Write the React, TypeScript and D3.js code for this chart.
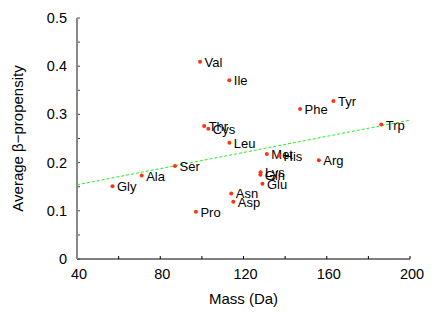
import * as d3 from 'd3'

const residues = ['Gly', 'Ala', 'Ser', 'Pro', 'Val', 'Thr', 'Cys', 'Ile', 'Leu', 'Asn', 'Asp', 'Gln', 'Lys', 'Glu', 'Met', 'His', 'Phe', 'Arg', 'Tyr', 'Trp']
const masses = [57.05, 71.08, 87.08, 97.12, 99.13, 101.1, 103.1, 113.2, 113.2, 114.1, 115.1, 128.1, 128.2, 129.1, 131.2, 137.1, 147.2, 156.2, 163.2, 186.2]
const propensity = [0.151, 0.173, 0.193, 0.098, 0.409, 0.276, 0.270, 0.371, 0.241, 0.136, 0.119, 0.175, 0.180, 0.156, 0.218, 0.214, 0.311, 0.205, 0.328, 0.279]

// fitted line end points
const fitX = [40, 200]
const fitY = [0.154, 0.288]

const xTicks = [40, 80, 120, 160, 200]
const yTicks = [0, 0.1, 0.2, 0.3, 0.4, 0.5]

const W = 436
const H = 317
const margin = { top: 18, right: 26, bottom: 58, left: 77 }
const font = 'Liberation Sans, Arial, sans-serif'

const App = () => {
    const innerW = W - margin.left - margin.right
    const innerH = H - margin.top - margin.bottom

    const x = d3.scaleLinear().domain([40, 200]).range([0, innerW])
    const y = d3.scaleLinear().domain([0, 0.5]).range([innerH, 0])

    const fitLine = d3.line<number>()
        .x(d => x(fitX[d]))
        .y(d => y(fitY[d]))

    const xMinor = d3.range(40, 201, 20)
    const yMinor = d3.range(0, 0.501, 0.05)

    return (
        <div style={{ position: 'absolute', left: 0, top: 0 }}>
            <svg width={W} height={H} style={{ display: 'block', background: '#fff' }}>
                <g transform={`translate(${margin.left},${margin.top})`} fontFamily={font}>
                    {/* assi */}
                    <line x1={0} x2={innerW} y1={innerH} y2={innerH} stroke="#000" strokeWidth={1} />
                    {xMinor.map(t => (
                        <line key={'xt' + t} x1={x(t)} x2={x(t)} y1={innerH} y2={innerH - 3} stroke="#000" />
                    ))}
                    {yMinor.map(t => (
                        <line key={'yt' + t} x1={0} x2={3} y1={y(t)} y2={y(t)} stroke="#444" />
                    ))}
                    <line x1={0} x2={0} y1={0} y2={innerH} stroke="#888" strokeWidth={2} />

                    {xTicks.map(t => (
                        <text key={'xl' + t} x={x(t) + 2} y={innerH + 20} textAnchor="middle" fontSize={14.5}>{t}</text>
                    ))}
                    {yTicks.map(t => (
                        <text key={'yl' + t} x={-10} y={y(t) + 5} textAnchor="end" fontSize={14.5}>{t === 0 ? '0' : t.toFixed(1)}</text>
                    ))}

                    <text x={innerW / 2} y={innerH + 45} textAnchor="middle" fontSize={15}>Mass (Da)</text>
                    <text transform={`translate(${-54},${y(0.25)}) rotate(-90)`} textAnchor="middle" fontSize={15}>Average β−propensity</text>

                    {/* linea di fit */}
                    <path d={fitLine([0, 1]) ?? ''} fill="none" stroke="#22ee22" strokeWidth={1} strokeDasharray="3,2" />

                    {/* punti */}
                    {residues.map((r, i) => (
                        <g key={r}>
                            <circle cx={x(masses[i])} cy={y(propensity[i])} r={2} fill="#ff3311" />
                            <text x={x(masses[i]) + 4.5} y={y(propensity[i]) + 5} fontSize={13} fill="#000">{r}</text>
                        </g>
                    ))}
                </g>
            </svg>
        </div>
    )
}

export default App
